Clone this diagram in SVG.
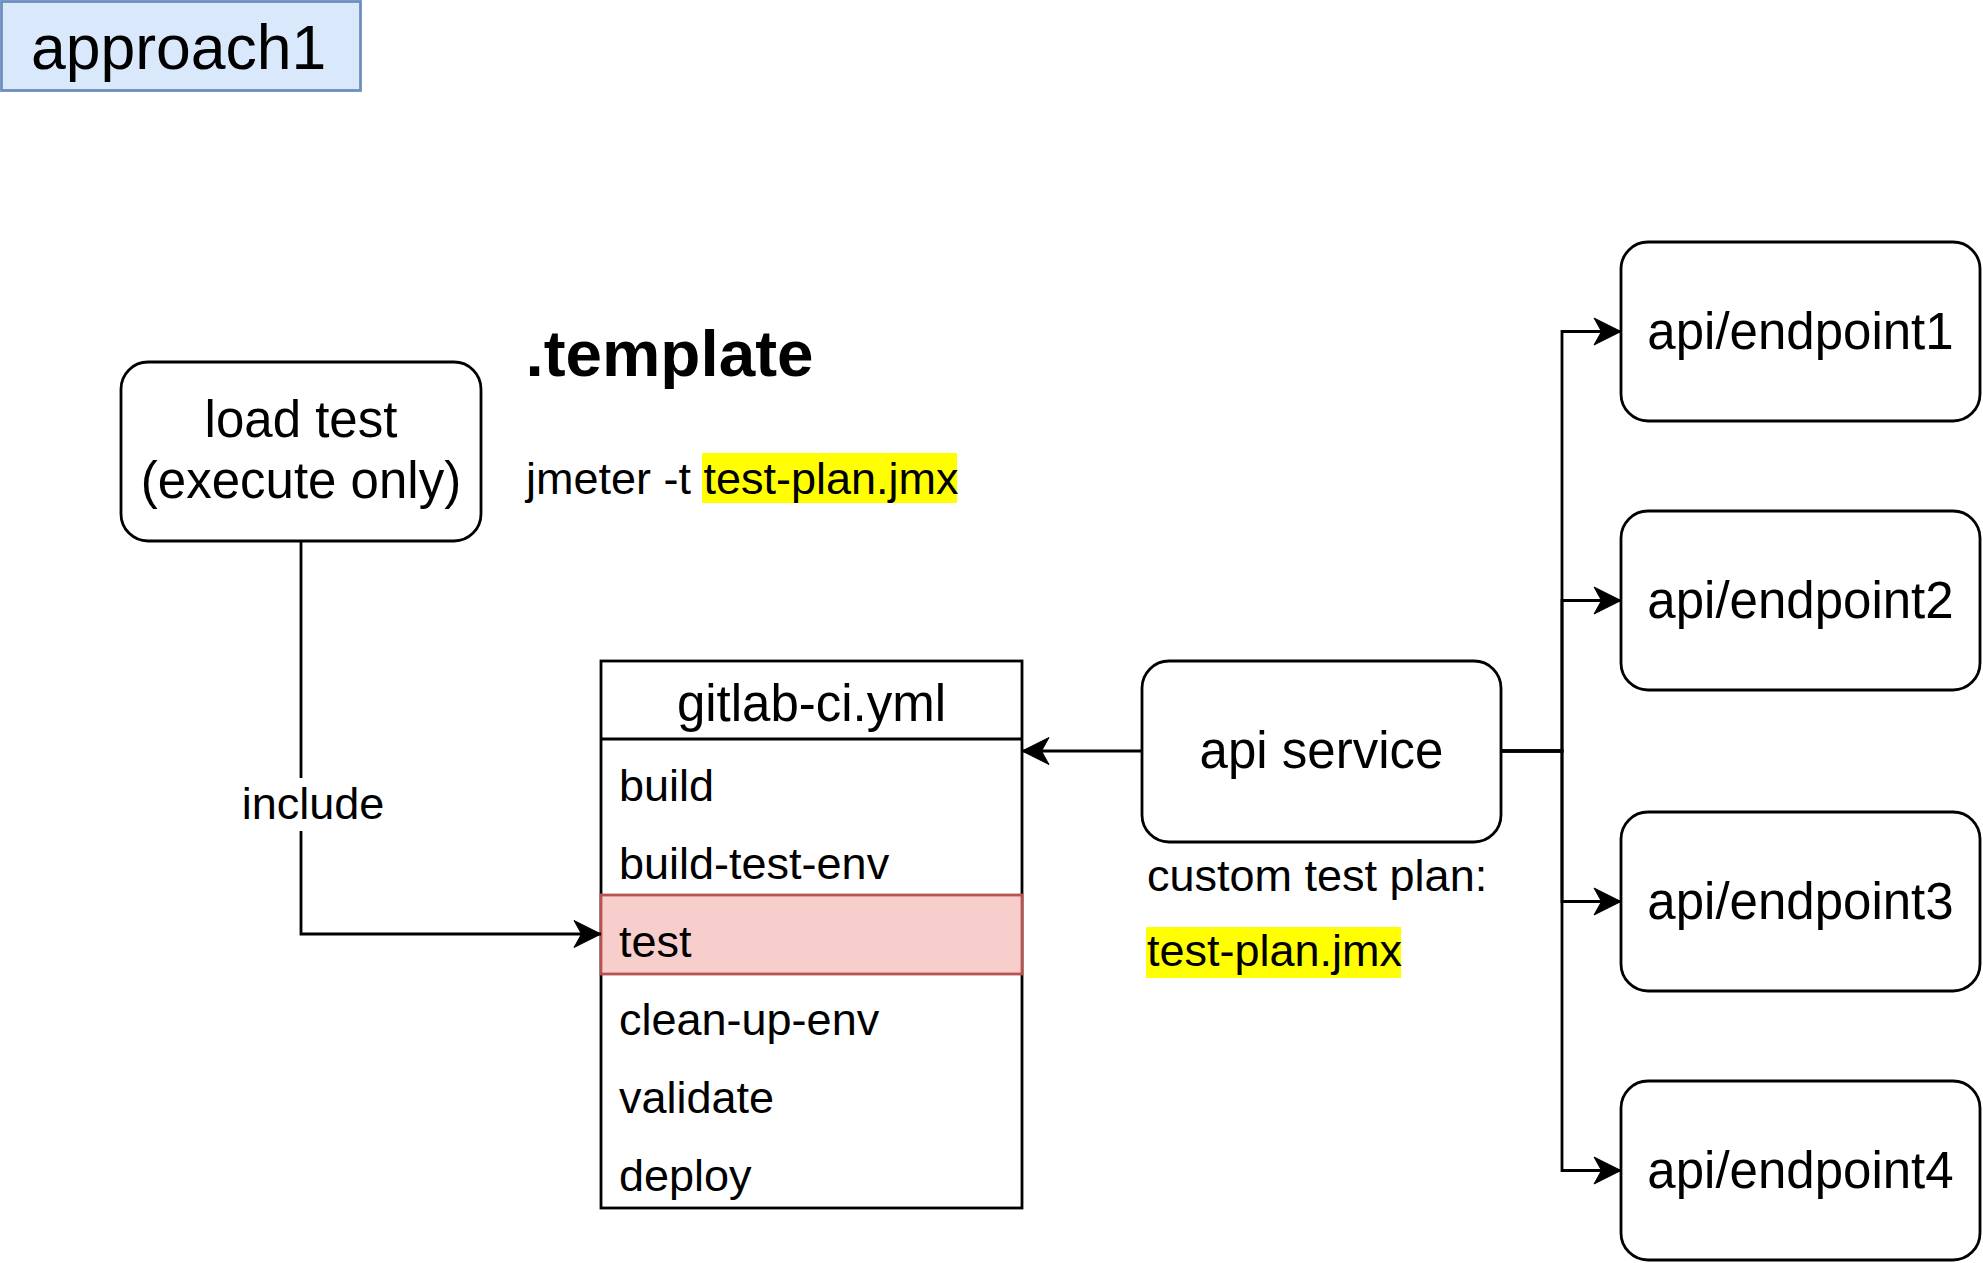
<svg xmlns="http://www.w3.org/2000/svg" width="1983" height="1263" viewBox="0 0 1983 1263">
<style>
  text { font-family: "Liberation Sans", Arial, sans-serif; fill: #000; }
  .node { fill: #fff; stroke: #000; stroke-width: 2.8; }
  .big { font-size: 51px; text-anchor: middle; }
  .mid { font-size: 45px; }
  .edge { fill: none; stroke: #000; stroke-width: 2.8; }
  .hl { fill: #ffff00; }
</style>
<defs>
  <marker id="arrow" markerUnits="userSpaceOnUse" markerWidth="30" markerHeight="30" viewBox="-28 -14 30 28" refX="0" refY="0" orient="auto">
    <path d="M0,0 L-27,-13.5 L-19.5,0 L-27,13.5 Z" fill="#000" stroke="#000" stroke-width="1"/>
  </marker>
</defs>
<rect width="1983" height="1263" fill="#fff"/>

<g id="approach1">
  <rect x="1.5" y="1.5" width="359" height="89" fill="#dae8fc" stroke="#6c8ebf" stroke-width="2.8"/>
  <text x="31" y="69" font-size="62.5">approach1</text>
</g>

<g id="template-title">
  <text x="525.5" y="376" font-size="65.6" font-weight="bold">.template</text>
</g>

<g id="jmeter-cmd">
  <rect class="hl" x="702" y="453" width="255" height="50"/>
  <text class="mid" x="526" y="494">jmeter -t test-plan.jmx</text>
</g>

<g id="load-test">
  <rect class="node" x="121" y="362" width="360" height="179" rx="27" ry="27"/>
  <text class="big" x="301" y="437">load test</text>
  <text class="big" x="301" y="498">(execute only)</text>
</g>

<g id="gitlab-ci">
  <rect class="node" x="601" y="661" width="421" height="547"/>
  <line x1="601" y1="739" x2="1022" y2="739" stroke="#000" stroke-width="2.8"/>
  <text class="big" x="811.5" y="721">gitlab-ci.yml</text>
  <rect x="601" y="895" width="421" height="79" fill="#f8cecc" stroke="#b85450" stroke-width="2.8"/>
  <text class="mid" x="619" y="801">build</text>
  <text class="mid" x="619" y="879">build-test-env</text>
  <text class="mid" x="619" y="957">test</text>
  <text class="mid" x="619" y="1035">clean-up-env</text>
  <text class="mid" x="619" y="1113">validate</text>
  <text class="mid" x="619" y="1191">deploy</text>
</g>

<g id="api-service">
  <rect class="node" x="1142" y="661" width="359" height="181" rx="27" ry="27"/>
  <text class="big" x="1321.5" y="768">api service</text>
</g>

<g id="custom-test-plan">
  <text class="mid" x="1147" y="891">custom test plan:</text>
  <rect class="hl" x="1146" y="927" width="255" height="51"/>
  <text class="mid" x="1147" y="966">test-plan.jmx</text>
</g>

<g id="endpoint1">
  <rect class="node" x="1621" y="242" width="359" height="179" rx="27" ry="27"/>
  <text class="big" x="1800.5" y="349">api/endpoint1</text>
</g>
<g id="endpoint2">
  <rect class="node" x="1621" y="511" width="359" height="179" rx="27" ry="27"/>
  <text class="big" x="1800.5" y="618">api/endpoint2</text>
</g>
<g id="endpoint3">
  <rect class="node" x="1621" y="812" width="359" height="179" rx="27" ry="27"/>
  <text class="big" x="1800.5" y="919">api/endpoint3</text>
</g>
<g id="endpoint4">
  <rect class="node" x="1621" y="1081" width="359" height="179" rx="27" ry="27"/>
  <text class="big" x="1800.5" y="1188">api/endpoint4</text>
</g>

<g id="connectors">
  <path class="edge" d="M301,541 V934 H601" marker-end="url(#arrow)"/>
  <rect x="243" y="778" width="140" height="53" fill="#fff"/>
  <text class="mid" x="313" y="819" text-anchor="middle">include</text>
  <path class="edge" d="M1142,751 H1022" marker-end="url(#arrow)"/>
  <path class="edge" d="M1501,751 H1562 V331.5 H1621" marker-end="url(#arrow)"/>
  <path class="edge" d="M1501,751 H1562 V600.5 H1621" marker-end="url(#arrow)"/>
  <path class="edge" d="M1501,751 H1562 V901.5 H1621" marker-end="url(#arrow)"/>
  <path class="edge" d="M1501,751 H1562 V1170.5 H1621" marker-end="url(#arrow)"/>
</g>
</svg>
